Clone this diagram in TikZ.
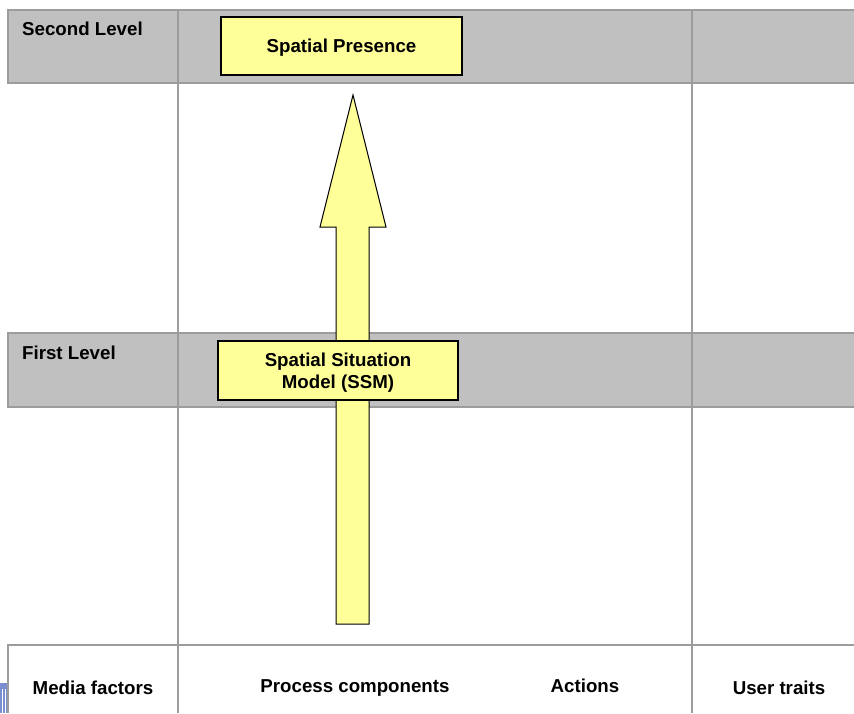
\documentclass[tikz,border=0pt]{standalone}
\usepackage{fontspec}
\setmainfont{Liberation Sans}
\usetikzlibrary{positioning}

\definecolor{bandgray}{HTML}{C0C0C0}
\definecolor{linegray}{HTML}{9C9C9C}
\definecolor{boxyellow}{HTML}{FFFF99}
\definecolor{tabblue}{HTML}{7B8FD0}

\tikzset{
  gridline/.style={draw=linegray,line width=1.2pt},
  levellabel/.style={anchor=north west,inner sep=0pt,font=\bfseries\fontsize{18.7}{21}\selectfont},
  collabel/.style={inner sep=0pt,font=\bfseries\fontsize{18.7}{21}\selectfont},
  yellowbox/.style={draw=black,fill=boxyellow,line width=1.2pt,align=center,
    text depth=0pt,font=\bfseries\fontsize{18.7}{22}\selectfont},
  bigarrow/.style={draw=black,fill=boxyellow,line width=1pt,line join=miter}
}

\begin{document}
\begin{tikzpicture}[x=1pt,y=-1pt]
    \useasboundingbox (0,0) rectangle (854,713);
    % level bands
    \fill[bandgray] (8,10) rectangle (854,83);
    \draw[gridline] (854,10) -- (8,10) -- (8,83) -- (854,83);
    \fill[bandgray] (8,333) rectangle (854,407);
    \draw[gridline] (854,333) -- (8,333) -- (8,407) -- (854,407);
    % column lines
    \draw[gridline] (178,10) -- (178,713);
    \draw[gridline] (692,10) -- (692,713);
    \draw[gridline] (854,645) -- (8,645) -- (8,713);
    % small tab at the left edge
    \fill[tabblue] (0,683) rectangle (7,713);
    \draw[white,line width=0.8pt] (2.5,689) -- (2.5,713) (5,689) -- (5,713);
    \node[levellabel] (second) at (22,22) {Second Level};
    \node[levellabel] (first) at (22,346) {First Level};
    % arrow from bottom to top
    \coordinate (tail) at (353,624);
    \coordinate (tip) at (353,95);
    \draw[bigarrow] (tail) ++(-17,0) |- (336,227) -- (320,227) -- (tip)
      -- (386,227) -- (369,227) |- (tail) -- cycle;
    \node[yellowbox,minimum width=241pt,minimum height=58pt] (presence)
      at (341.5,46) {Spatial Presence};
    \node[yellowbox,minimum width=240pt,minimum height=59pt] (ssm)
      at (338,370.5) {Spatial Situation\\Model (SSM)};
    % column labels
    \node[collabel] (media) at (93,688) {Media factors};
    \node[collabel] (process) at (355,688) {Process components};
    \node[collabel] (actions) at (585,686) {Actions};
    \node[collabel] (user) at (779,688) {User traits};
\end{tikzpicture}
\end{document}
